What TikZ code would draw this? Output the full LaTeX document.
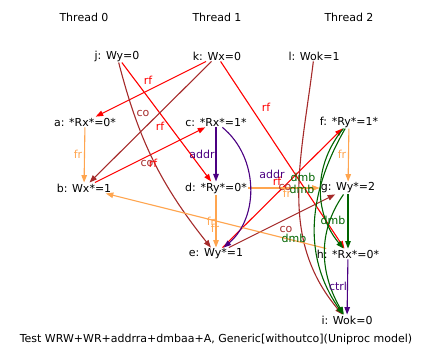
\documentclass[tikz,border=0pt]{standalone}
\usepackage{fontspec}
\setmainfont{DejaVu Sans}
\usetikzlibrary{arrows.meta}
\definecolor{evInk}{HTML}{000000}
\definecolor{evRf}{HTML}{FF0000}
\definecolor{evCo}{HTML}{A52A2A}
\definecolor{evFr}{HTML}{FFA54F}
\definecolor{evDep}{HTML}{4B0082}
\definecolor{evDmb}{HTML}{006400}
\tikzset{
  ev/base/.style={font=\fontsize{11}{13}\selectfont, text=evInk,
    inner sep=1pt},
  ev/event/.style={ev/base},
  ev/thread/.style={ev/base},
  ev/arrow/.style={-{Triangle[length=7.5pt,width=5.5pt]}, line width=1.1pt},
  ev/rf/.style={ev/arrow, draw=evRf},
  ev/co/.style={ev/arrow, draw=evCo},
  ev/fr/.style={ev/arrow, draw=evFr},
  ev/dep/.style={ev/arrow, draw=evDep},
  ev/dmb/.style={ev/arrow, draw=evDmb},
  % edge labels sit where the layout put them, not on the edge itself
  ev/label/.style={ev/base, inner sep=0pt},
  ev/rflabel/.style={ev/label, text=evRf},
  ev/colabel/.style={ev/label, text=evCo},
  ev/frlabel/.style={ev/label, text=evFr},
  ev/deplabel/.style={ev/label, text=evDep},
  ev/dmblabel/.style={ev/label, text=evDmb},
}

\begin{document}
\begin{tikzpicture}[x=1pt, y=1pt]
\useasboundingbox (0,0) rectangle (434,-361);

\node[ev/thread] (thread0) at (84,-17) {Thread 0};
\node[ev/thread] (thread1) at (217,-17) {Thread 1};
\node[ev/thread] (thread2) at (349,-17) {Thread 2};

\node[ev/event] (j) at (117,-56) {j: Wy=0};
\node[ev/event] (k) at (217,-56) {k: Wx=0};
\node[ev/event] (l) at (314,-56) {l: Wok=1};
\node[ev/event] (a) at (85,-122) {a: *Rx*=0*};
\node[ev/event] (c) at (216,-122) {c: *Rx*=1*};
\node[ev/event] (f) at (349,-122) {f: *Ry*=1*};
\node[ev/event] (b) at (84,-188) {b: Wx*=1};
\node[ev/event] (d) at (216,-188) {d: *Ry*=0*};
\node[ev/event] (g) at (348,-188) {g: Wy*=2};
\node[ev/event] (e) at (216,-254) {e: Wy*=1};
\node[ev/event] (h) at (348,-254) {h: *Rx*=0*};
\node[ev/event] (i) at (347,-320) {i: Wok=0};

\node[ev/base] (caption) at (216,-339)
  {Test WRW+WR+addrra+dmbaa+A, Generic[withoutco](Uniproc model)};

% rf
\draw[ev/rf] (k) -- (a);
\draw[ev/rf] (j) -- (d);
\draw[ev/rf] (b) -- (c);
\draw[ev/rf] (k) -- (h);
\draw[ev/rf] (e) -- (f);
% co
\draw[ev/co] (j) to[bend right=12] (e);
\draw[ev/co] (k) -- (b);
\draw[ev/co] (e) -- (g);
\draw[ev/co] (l) to[out=-97, in=130] (i);
% fr
\draw[ev/fr] (a) -- (b);
\draw[ev/fr] (d) -- (e);
\draw[ev/fr] (h) -- (b);
\draw[ev/fr] (d) -- (g);
\draw[ev/fr] (f) -- (g);
% addr, ctrl
\draw[ev/dep] (c) -- (d);
\draw[ev/dep] (c) to[bend left=50] (e);
\draw[ev/dep] (h) -- (i);
% dmb
\draw[ev/dmb] (f) to[bend right=40] (h);
\draw[ev/dmb] (f) to[out=-120, in=125] (i);
\draw[ev/dmb] (g) to[out=-125, in=120] (i);
\draw[ev/dmb] (g) -- (h);

\node[ev/rflabel] (rfka) at (148,-80) {rf};
\node[ev/colabel] (coje) at (143,-113) {co};
\node[ev/rflabel] (rfjd) at (160,-126) {rf};
\node[ev/colabel] (cokb) at (147,-163) {co};
\node[ev/rflabel] (rfbc) at (153,-163) {rf};
\node[ev/frlabel] (frab) at (78,-154) {fr};
\node[ev/deplabel] (addrcd) at (202,-154) {addr};
\node[ev/rflabel] (rfkh) at (266,-107) {rf};
\node[ev/frlabel] (frfg) at (342,-154) {fr};
\node[ev/deplabel] (addrce) at (272,-174) {addr};
\node[ev/rflabel] (rfef) at (277,-181) {rf};
\node[ev/colabel] (coli) at (285,-187) {co};
\node[ev/frlabel] (frdg) at (287,-193) {fr};
\node[ev/dmblabel] (dmbfh) at (303,-177) {dmb};
\node[ev/dmblabel] (dmbfi) at (302,-189) {dmb};
\node[ev/frlabel] (frhb) at (211,-221) {fr};
\node[ev/frlabel] (frde) at (215,-228) {fr};
\node[ev/dmblabel] (dmbgh) at (333,-220) {dmb};
\node[ev/colabel] (coeg) at (286,-229) {co};
\node[ev/dmblabel] (dmbgi) at (294,-238) {dmb};
\node[ev/deplabel] (ctrlhi) at (338,-286) {ctrl};
\end{tikzpicture}
\end{document}
